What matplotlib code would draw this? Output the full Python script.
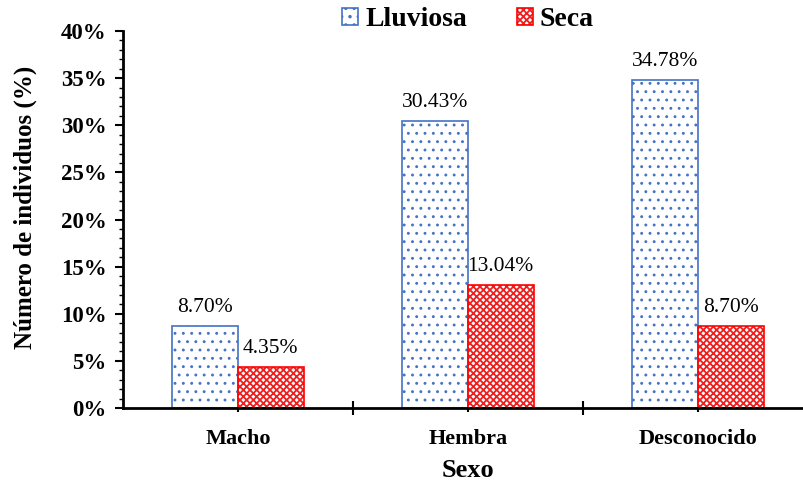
import numpy as np
import matplotlib.pyplot as plt
from matplotlib.ticker import MultipleLocator, FuncFormatter

plt.rcParams['font.family'] = ['Liberation Serif', 'DejaVu Serif']

categories = ['Macho', 'Hembra', 'Desconocido']
lluviosa = [8.70, 30.43, 34.78]
seca = [4.35, 13.04, 8.70]

fig = plt.figure(figsize=(8.04, 4.87), dpi=100)
ax = fig.add_axes([123 / 804, 79 / 487, 690 / 804, 377 / 487])

x = np.arange(len(categories))
w = 0.285

plt.rcParams['hatch.linewidth'] = 0.9
b1 = ax.bar(x - w / 2, lluviosa, w, facecolor='white', edgecolor='#4472C4',
            hatch='..', linewidth=1.2, label='Lluviosa')
plt.rcParams['hatch.linewidth'] = 1.3
b2 = ax.bar(x + w / 2, seca, w, facecolor='white', edgecolor='#FF0000',
            hatch='xxxxx', linewidth=1.2, label='Seca')
for bar in b1:
    bar._hatch_color = (0.27, 0.45, 0.77, 1)
for bar in b2:
    bar._hatch_color = (0.93, 0.12, 0.12, 1)

for bars, vals in ((b1, lluviosa), (b2, seca)):
    for bar, v in zip(bars, vals):
        ax.annotate(f'{v:.2f}%', (bar.get_x() + bar.get_width() / 2, v),
                    xytext=(0, 10), textcoords='offset points',
                    ha='center', va='baseline', fontsize=15.5)

ax.set_xlim(-0.5, 2.5)
ax.set_ylim(0, 40)
ax.yaxis.set_major_locator(MultipleLocator(5))
ax.yaxis.set_minor_locator(MultipleLocator(1))
ax.yaxis.set_major_formatter(FuncFormatter(lambda v, p: f'{v:.0f}%'))
ax.set_xticks([0.5, 1.5])
ax.set_xticklabels([])
ax.set_xticks(x, minor=True)
ax.set_xticklabels(categories, minor=True, fontsize=16, fontweight='bold')
ax.tick_params(axis='x', which='major', direction='inout', length=10, width=1.5)
ax.tick_params(axis='x', which='minor', direction='out', length=3, width=1.5, pad=12)
ax.tick_params(axis='y', which='major', direction='out', length=6, width=1.5,
               labelsize=16.5, pad=6)
ax.tick_params(axis='y', which='minor', direction='out', length=3, width=1.0)
for lab in ax.get_yticklabels():
    lab.set_fontweight('bold')

for s in ('top', 'right'):
    ax.spines[s].set_visible(False)
for s in ('left', 'bottom'):
    ax.spines[s].set_linewidth(2)

ax.set_ylabel('Número de individuos (%)', fontsize=18, fontweight='bold')
ax.yaxis.set_label_coords(-0.125, 0.533)
ax.set_xlabel('Sexo', fontsize=19, fontweight='bold', labelpad=7)

leg = ax.legend(loc='center', bbox_to_anchor=(0.5, 1 + 11 / 377), ncol=2,
                frameon=False, prop={'size': 20, 'weight': 'bold'},
                handlelength=0.58, handleheight=0.58, columnspacing=1.8,
                handletextpad=0.25, borderpad=0, borderaxespad=0)

fig.savefig('out.png', dpi=100)
